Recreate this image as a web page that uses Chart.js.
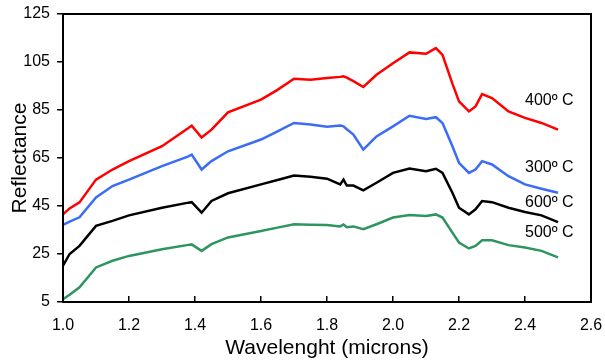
<!DOCTYPE html>
<html>
<head>
<meta charset="utf-8">
<script src="https://cdn.jsdelivr.net/npm/chart.js@4/dist/chart.umd.min.js"></script>
<style>
  html, body { margin: 0; padding: 0; background: #fff; }
  #wrap { width: 605px; height: 364px; }
</style>
</head>
<body>
<div id="wrap"><canvas id="spectra" width="605" height="364"></canvas></div>
<script>
// wavelengths (microns) shared by all curves
var wavelengths = [1.00, 1.02, 1.05, 1.10, 1.15, 1.20, 1.30, 1.38, 1.39, 1.42,
                   1.45, 1.50, 1.60, 1.65, 1.70, 1.75, 1.80, 1.84, 1.85, 1.86,
                   1.88, 1.91, 1.95, 2.00, 2.05, 2.10, 2.13, 2.15, 2.18, 2.20,
                   2.23, 2.25, 2.27, 2.30, 2.35, 2.40, 2.45, 2.50];

var refl400 = [41.5, 44, 46.5, 56, 60.2, 63.7, 69.9, 77.5, 78.5, 73.5,
               76.8, 84, 89.3, 93.4, 98, 97.6, 98.3, 98.8, 99, 98.5,
               97, 94.6, 99.7, 104.5, 109, 108.4, 110.8, 108, 96, 88.6,
               84.4, 86.5, 91.6, 90, 84.4, 81.7, 79.6, 76.8];
var refl300 = [37.1, 38.5, 40.3, 48.6, 53.3, 56, 61.6, 65.7, 66.4, 60.2,
               63.7, 67.8, 72.7, 76.1, 79.6, 79, 78, 78.5, 78.2, 77,
               74.8, 68.5, 74, 78.2, 82.6, 81.3, 82, 79.6, 69.9, 63,
               58.8, 60.2, 63.7, 62.3, 57.4, 54, 52.2, 50.5];
var refl600 = [20.1, 25, 28.4, 36.7, 38.8, 41.1, 44.3, 46.4, 46.6, 42.2,
               47.1, 50.3, 54, 55.8, 57.7, 57.2, 56.4, 54, 56, 53.5,
               53.5, 51.5, 54.7, 58.8, 60.6, 59.5, 60.5, 58.8, 50.5, 44.3,
               41.5, 43.6, 47.1, 46.6, 44.3, 42.5, 41.1, 38.3];
var refl500 = [6.2, 8, 11.1, 19.4, 22.2, 24.2, 27, 28.8, 29, 26.3,
               29.1, 31.9, 34.6, 36, 37.4, 37.2, 37.1, 36.5, 37.3, 36.2,
               36.5, 35.3, 37.4, 40.2, 41.2, 40.8, 41.5, 40.2, 33.9, 29.8,
               27.3, 28.4, 30.7, 30.7, 28.7, 27.7, 26.3, 23.6];

var seriesNames = ['400º C', '300º C', '600º C', '500º C'];
var labelAnchors = [[2.40, 88.8], [2.40, 61.2], [2.40, 46.3], [2.40, 33.8]];

var xTicks = [1.0, 1.2, 1.4, 1.6, 1.8, 2.0, 2.2, 2.4, 2.6];
var yTicks = [5, 25, 45, 65, 85, 105, 125];

var FONT = '"Liberation Sans", Arial, sans-serif';

function pts(vals) {
    return wavelengths.map(function(w, i) { return { x: w, y: vals[i] }; });
}

function line(label, vals, color) {
    return {
        label: label,
        data: pts(vals),
        borderColor: color,
        borderWidth: 2.5,
        pointRadius: 0,
        tension: 0,
        fill: false
    };
}

// frame and tick marks as filled rects, plus the curve labels
var framePlugin = {
    id: 'frame',
    afterDraw: function(chart) {
        var ctx = chart.ctx, a = chart.chartArea;
        var xs = chart.scales.x, ys = chart.scales.y;
        var L = Math.round(a.left), T = Math.round(a.top);
        var R = Math.round(a.right), B = Math.round(a.bottom);
        ctx.save();
        ctx.fillStyle = '#000';
        ctx.fillRect(L - 1, T - 1, R - L + 2, 2);
        ctx.fillRect(L - 1, B - 1, R - L + 2, 2);
        ctx.fillRect(L - 1, T - 1, 2, B - T + 2);
        ctx.fillRect(R - 1, T - 1, 2, B - T + 2);
        xTicks.forEach(function(t) {
            var px = Math.round(xs.getPixelForValue(t));
            ctx.fillRect(px - 1, B - 6, 1.5, 6);
        });
        yTicks.forEach(function(t) {
            var py = Math.round(ys.getPixelForValue(t));
            ctx.fillRect(L - 6, py - 1, 6, 1.5);
        });

        ctx.font = '16px ' + FONT;
        ctx.textBaseline = 'middle';
        ctx.textAlign = 'left';
        seriesNames.forEach(function(n, i) {
            ctx.fillText(n, xs.getPixelForValue(labelAnchors[i][0]), ys.getPixelForValue(labelAnchors[i][1]));
        });
        ctx.restore();
    }
};

new Chart(document.getElementById('spectra').getContext('2d'), {
    type: 'line',
    data: {
        datasets: [
            line(seriesNames[0], refl400, '#ff0000'),
            line(seriesNames[1], refl300, '#3b6cf5'),
            line(seriesNames[2], refl600, '#000000'),
            line(seriesNames[3], refl500, '#2e9560')
        ]
    },
    options: {
        responsive: false,
        animation: false,
        layout: { padding: { top: 14, right: 14, left: 0, bottom: 0 } },
        plugins: { legend: { display: false }, tooltip: { enabled: false } },
        scales: {
            x: {
                type: 'linear',
                min: 1.0, max: 2.6,
                afterBuildTicks: function(s) { s.ticks = xTicks.map(function(v) { return { value: v }; }); },
                afterFit: function(s) { s.height = 62; s.paddingLeft = 0; s.paddingRight = 0; },
                grid: { display: false, drawTicks: false },
                border: { display: false },
                ticks: {
                    color: '#000', padding: 14, maxRotation: 0,
                    font: { family: FONT, size: 16 },
                    callback: function(v) { return v.toFixed(1); }
                },
                title: {
                    display: true, text: 'Wavelenght (microns)', color: '#000',
                    font: { family: FONT, size: 21 },
                    padding: { top: 0, bottom: 3 }
                }
            },
            y: {
                min: 5, max: 125,
                afterBuildTicks: function(s) { s.ticks = yTicks.map(function(v) { return { value: v }; }); },
                afterFit: function(s) { s.width = 63; s.paddingTop = 0; s.paddingBottom = 0; },
                grid: { display: false, drawTicks: false },
                border: { display: false },
                ticks: {
                    color: '#000', padding: 13,
                    font: { family: FONT, size: 16 }
                },
                title: {
                    display: true, text: 'Reflectance', color: '#000',
                    font: { family: FONT, size: 21 },
                    padding: { top: 8, bottom: 0 }
                }
            }
        }
    },
    plugins: [framePlugin]
});
</script>
</body>
</html>
